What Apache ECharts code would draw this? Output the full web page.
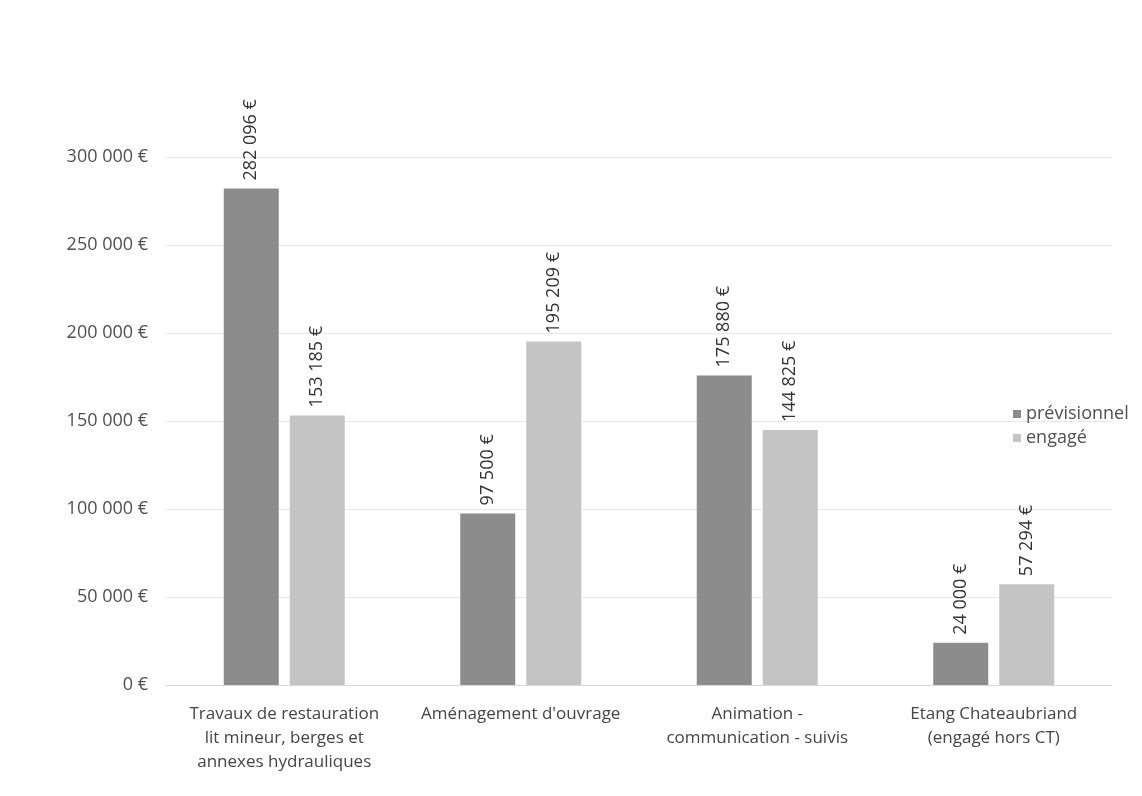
<!DOCTYPE html>
<html>
<head>
<meta charset="utf-8">
<script src="https://cdn.jsdelivr.net/npm/echarts@6/dist/echarts.min.js"></script>
<style>
  html, body { margin: 0; padding: 0; background: #ffffff; }
  #chart { width: 1142px; height: 796px; }
</style>
</head>
<body>
<div id="chart"></div>
<script>
// Budget par action : prévisionnel vs engagé
const categories = [
  "Travaux de restauration\nlit mineur, berges et\nannexes hydrauliques",
  "Aménagement d'ouvrage",
  "Animation -\ncommunication - suivis",
  "Etang Chateaubriand\n(engagé hors CT)"
];
const seriesNames = ["prévisionnel", "engagé"];
const previsionnel = [282096, 97500, 175880, 24000];
const engage = [153185, 195209, 144825, 57294];
const yTicks = [0, 50000, 100000, 150000, 200000, 250000, 300000];

function euro(v) {
  return String(Math.round(v)).replace(/\B(?=(\d{3})+(?!\d))/g, " ") + " €";
}

const chart = echarts.init(document.getElementById("chart"), null, { renderer: "canvas" });

const labelStyle = {
  show: true,
  position: "top",
  rotate: 90,
  align: "left",
  verticalAlign: "middle",
  distance: 8,
  color: "#333333",
  fontFamily: "Open Sans, Liberation Sans, sans-serif",
  fontSize: 18,
  formatter: p => euro(p.value)
};

chart.setOption({
  animation: false,
  textStyle: { fontFamily: "Open Sans, Liberation Sans, sans-serif" },
  grid: { left: 166, right: 30, top: 157, bottom: 111, containLabel: false },
  legend: {
    orient: "vertical",
    left: 1008,
    top: 400,
    itemWidth: 8,
    itemHeight: 8,
    itemGap: 6,
    icon: "rect",
    data: seriesNames,
    textStyle: { color: "#505050", fontSize: 18 }
  },
  xAxis: {
    type: "category",
    data: categories,
    axisLine: { show: true, lineStyle: { color: "#d9d9d9", width: 1 } },
    axisTick: { show: false },
    axisLabel: {
      color: "#454545",
      fontSize: 17,
      lineHeight: 24,
      margin: 17,
      interval: 0
    }
  },
  yAxis: {
    type: "value",
    min: yTicks[0],
    max: yTicks[yTicks.length - 1],
    interval: yTicks[1] - yTicks[0],
    axisLine: { show: false },
    axisTick: { show: false },
    splitLine: { lineStyle: { color: "#e8e8e8", width: 1 } },
    axisLabel: {
      color: "#505050",
      fontSize: 18,
      margin: 18,
      formatter: v => euro(v)
    }
  },
  series: [
    {
      name: seriesNames[0],
      type: "bar",
      data: previsionnel,
      barWidth: 55,
      barGap: "20%",
      itemStyle: { color: "#8c8c8c" },
      label: labelStyle
    },
    {
      name: seriesNames[1],
      type: "bar",
      data: engage,
      barWidth: 55,
      itemStyle: { color: "#c4c4c4" },
      label: labelStyle
    }
  ]
});
</script>
</body>
</html>
